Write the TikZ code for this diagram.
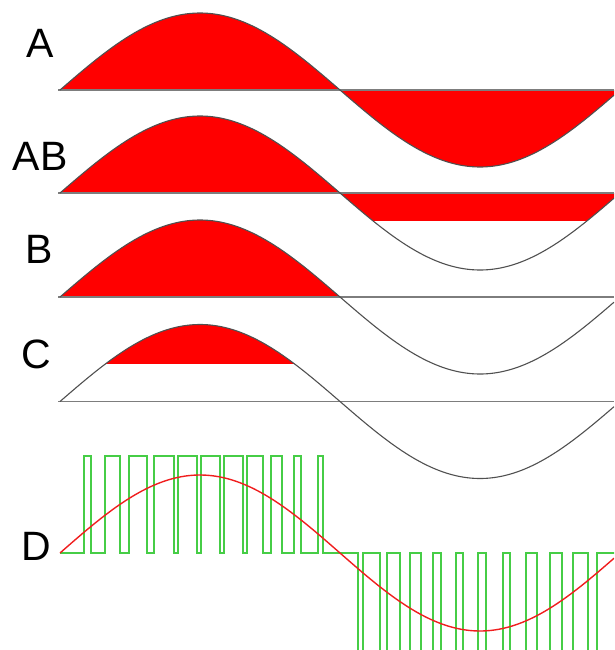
\documentclass[tikz,border=0pt]{standalone}
\usepackage{fontspec}
\setmainfont{Liberation Sans}
\definecolor{curvegray}{RGB}{80,80,80}
\definecolor{basegray}{RGB}{125,125,125}
\definecolor{pwmgreen}{RGB}{70,205,70}
\definecolor{sinred}{RGB}{240,30,30}
\begin{document}
\begin{tikzpicture}[x=1pt,y=-1pt,
  lbl/.style={inner sep=0pt,font=\fontsize{41}{41}\selectfont},
  redfill/.style={fill=red},
  wave/.style={draw=curvegray,line width=1.1pt},
  baseline/.style={draw=basegray,line width=1.2pt},
  pwm/.style={draw=pwmgreen,line width=1.7pt,line join=miter},
  refsine/.style={draw=sinred,line width=1.4pt}]
\useasboundingbox (0,0) rectangle (614,650);
\clip (0,0) rectangle (614,650);
% ---------- A ----------
\fill[redfill] (60,90) -- plot[domain=60:614,samples=200] (\x,{90-77*sin((\x-60)*0.6428571)}) -- (614,90) -- cycle;
\draw[baseline] (58,90) -- (614,90);
\draw[wave] plot[domain=60:614,samples=200] (\x,{90-77*sin((\x-60)*0.6428571)});
% ---------- AB ----------
\fill[redfill] (60,193) -- plot[domain=60:340,samples=120] (\x,{193-77*sin((\x-60)*0.6428571)}) -- cycle;
\begin{scope}
\clip (330,193) rectangle (614,220);
\fill[redfill] (340,193) -- plot[domain=340:614,samples=120] (\x,{193-77*sin((\x-60)*0.6428571)}) -- (614,193) -- cycle;
\end{scope}
\draw[baseline] (58,193) -- (614,193);
\draw[wave] plot[domain=60:614,samples=200] (\x,{193-77*sin((\x-60)*0.6428571)});
% ---------- B ----------
\fill[redfill] (60,297) -- plot[domain=60:340,samples=120] (\x,{297-77*sin((\x-60)*0.6428571)}) -- cycle;
\draw[baseline] (58,297) -- (614,297);
\draw[wave] plot[domain=60:614,samples=200] (\x,{297-77*sin((\x-60)*0.6428571)});
% ---------- C ----------
\begin{scope}
\clip (50,300) rectangle (350,363.5);
\fill[redfill] (60,401.5) -- plot[domain=60:340,samples=120] (\x,{401.5-77*sin((\x-60)*0.6428571)}) -- cycle;
\end{scope}
\draw[baseline] (58,401.5) -- (614,401.5);
\draw[wave] plot[domain=60:614,samples=200] (\x,{401.5-77*sin((\x-60)*0.6428571)});
% ---------- D ----------
\draw[pwm] (60,553)
  \foreach \a/\b in {84/91,105/120,129/147,154/174,178/197,201/220,224/243,247/263,271/282,294/301,318/323}
    { -- (\a,553) -- (\a,456) -- (\b,456) -- (\b,553) }
  \foreach \a/\b in {358/363,380/387,400/410,421/433,441/456,463/478,486/503,510/526,537/550,562/573,588/597}
    { -- (\a,553) -- (\a,655) -- (\b,655) -- (\b,553) }
  -- (616,553);
\draw[refsine] plot[domain=60:614,samples=200] (\x,{553-78*sin((\x-60)*0.6428571)});
% ---------- labels ----------
\node[lbl] (labA) at (40,43) {A};
\node[lbl] (labAB) at (40,156) {AB};
\node[lbl] (labB) at (39,249.5) {B};
\node[lbl] (labC) at (36,354) {C};
\node[lbl] (labD) at (36,546) {D};
\end{tikzpicture}
\end{document}
